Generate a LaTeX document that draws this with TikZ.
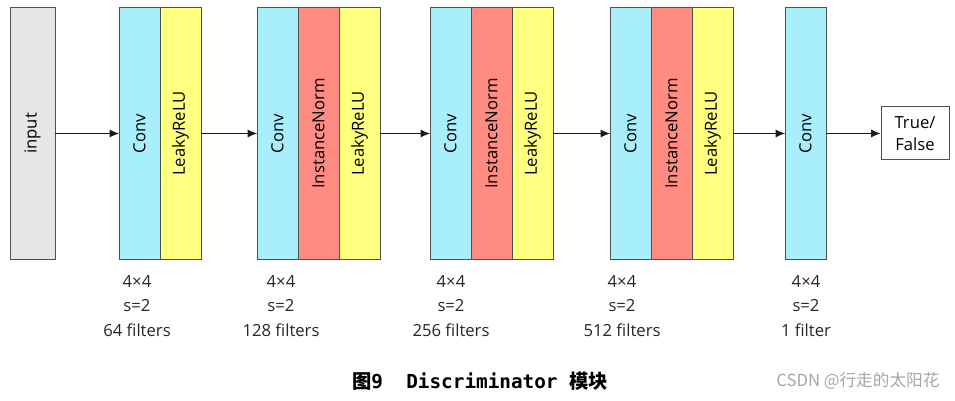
\documentclass[tikz,border=0pt]{standalone}
\usepackage{fontspec}
\setmainfont{Open Sans}
\newfontfamily\cjk{Noto Sans CJK SC}
\newfontfamily\capmono{DejaVu Sans Mono}
\usetikzlibrary{arrows.meta}
\definecolor{convcol}{RGB}{168,238,251}
\definecolor{normcol}{RGB}{255,140,130}
\definecolor{relucol}{RGB}{255,255,128}
\definecolor{inputcol}{RGB}{230,230,230}
\definecolor{edgecol}{RGB}{80,80,80}
\begin{document}
\begin{tikzpicture}[x=0.75pt,y=0.75pt,
  every node/.style={font=\fontsize{12.5}{15}\selectfont},
  layer/.style={draw=edgecol,line width=0.75pt,outer sep=0pt,minimum width=189pt,minimum height=30.75pt,inner sep=0pt,rotate=90},
  conv/.style={layer,fill=convcol},
  norm/.style={layer,fill=normcol},
  relu/.style={layer,fill=relucol},
  info/.style={align=center,font=\fontsize{12.5}{18.4}\selectfont,text=black!85},
  flow/.style={-{Latex[length=7pt,width=6pt]},line width=0.75pt,draw=black!90}]
\useasboundingbox (0,0) rectangle (955,400);
% input
\node[layer,fill=inputcol,minimum height=33.75pt] (in) at (32.5,266.5) {input};
% block 1
\node[conv] (conva) at (139.5,266.5) {Conv};
\node[relu] (relua) at (180.5,266.5) {LeakyReLU};
% block 2
\node[conv] (convb) at (277.5,266.5) {Conv};
\node[norm] (normb) at (318.5,266.5) {InstanceNorm};
\node[relu] (relub) at (359.5,266.5) {LeakyReLU};
% block 3
\node[conv] (convc) at (450.5,266.5) {Conv};
\node[norm] (normc) at (491.5,266.5) {InstanceNorm};
\node[relu] (reluc) at (532.5,266.5) {LeakyReLU};
% block 4
\node[conv] (convd) at (630.5,266.5) {Conv};
\node[norm] (normd) at (671.5,266.5) {InstanceNorm};
\node[relu] (relud) at (712.5,266.5) {LeakyReLU};
% last conv and output
\node[conv] (conve) at (805.5,266.5) {Conv};
\node[draw=edgecol,line width=0.75pt,fill=white,minimum width=51pt,minimum height=39.75pt,inner sep=0pt,align=center,font=\fontsize{12.5}{16}\selectfont] (out) at (915,266.5) {True/\\False};
% connectors
\draw[flow] (in.south) -- (conva.north);
\draw[flow] (relua.south) -- (convb.north);
\draw[flow] (relub.south) -- (convc.north);
\draw[flow] (reluc.south) -- (convd.north);
\draw[flow] (relud.south) -- (conve.north);
\draw[flow] (conve.south) -- (out.west);
% kernel info
\node[info] (infoa) at (137,94) {4×4\\s=2\\64 filters};
\node[info] (infob) at (281,94) {4×4\\s=2\\128 filters};
\node[info] (infoc) at (451,94) {4×4\\s=2\\256 filters};
\node[info] (infod) at (622,94) {4×4\\s=2\\512 filters};
\node[info] (infoe) at (806,94) {4×4\\s=2\\1 filter};
% caption
\node[font=\fontsize{14.5}{17}\selectfont] (cap) at (480,19) {{\cjk\bfseries 图}{\capmono\bfseries 9\ \ Discriminator }{\cjk\bfseries 模块}};
\node[font=\cjk\fontsize{12.5}{15}\selectfont,text=black!35] (mark) at (858,19) {CSDN @行走的太阳花};
\end{tikzpicture}
\end{document}
